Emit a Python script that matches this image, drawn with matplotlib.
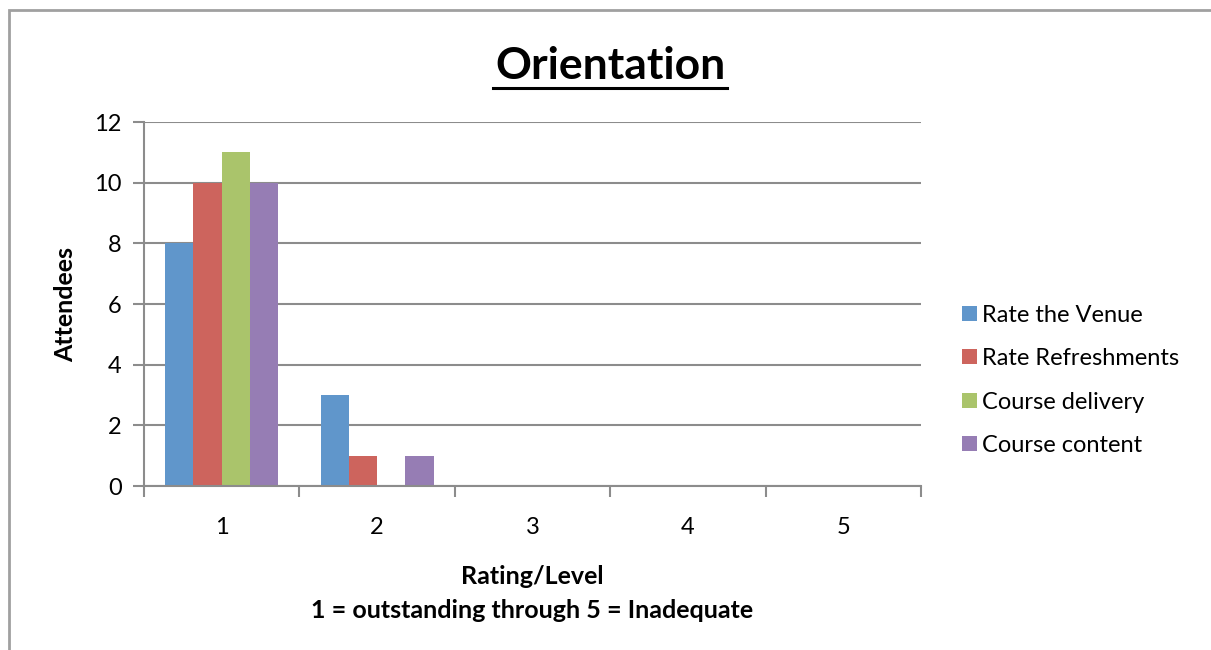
import matplotlib.pyplot as plt
from matplotlib.patches import Rectangle
from matplotlib.lines import Line2D
import numpy as np

plt.rcParams['font.family'] = ['Lato', 'DejaVu Sans']

ratings = ['1', '2', '3', '4', '5']
venue = [8, 3, 0, 0, 0]
refreshments = [10, 1, 0, 0, 0]
delivery = [11, 0, 0, 0, 0]
content = [10, 1, 0, 0, 0]
series_names = ['Rate the Venue', 'Rate Refreshments', 'Course delivery', 'Course content']
colors = ['#6096cb', '#cd645d', '#aac46b', '#967db4']

fig = plt.figure(figsize=(12.11, 6.5), dpi=100)
ax = fig.add_axes([0.1189, 0.2523, 0.6416, 0.56])

x = np.arange(len(ratings))
w = 0.182
for i, (vals, c) in enumerate(zip([venue, refreshments, delivery, content], colors)):
    ax.bar(x + (i - 1.5) * w, vals, w, color=c, label=series_names[i], zorder=3)

ax.set_xlim(-0.5, 4.5)
ax.set_ylim(0, 12)
ax.set_yticks(range(0, 13, 2))
ax.set_xticks(x)
ax.set_xticklabels(ratings, fontsize=17)
ax.set_xticks(np.arange(-0.5, 5, 1), minor=True)
ax.tick_params(axis='x', which='major', length=0, pad=22)
ax.tick_params(axis='x', which='minor', length=8, width=1.5, color='#8c8c8c', direction='out')
ax.tick_params(axis='y', length=8, width=1.5, color='#8c8c8c', labelsize=17, pad=8)
ax.grid(axis='y', color='#8c8c8c', linewidth=1.5, zorder=0)
for s in ['top', 'right']:
    ax.spines[s].set_visible(False)
for s in ['left', 'bottom']:
    ax.spines[s].set_color('#8c8c8c')
    ax.spines[s].set_linewidth(1.5)
    ax.spines[s].set_zorder(4)

ax.set_ylabel('Attendees', fontsize=18, fontweight='bold', labelpad=12)
ax.set_xlabel('Rating/Level\n1 = outstanding through 5 = Inadequate',
              fontsize=18, fontweight='bold', labelpad=20, linespacing=1.55)

leg = ax.legend(loc='center left', bbox_to_anchor=(1.026, 0.29), frameon=False,
                fontsize=17, handlelength=0.6, handleheight=0.6, handletextpad=0.25,
                labelspacing=0.95)

fig.text(0.504, 0.899, 'Orientation', ha='center', va='center', fontsize=32, fontweight='bold')
fig.add_artist(Line2D([493 / 1211, 727 / 1211], [1 - 88 / 650, 1 - 88 / 650],
                      color='black', linewidth=2.2))

# outer chart frame
fig.add_artist(Rectangle((9 / 1211, -0.05), 1.2, 0.05 + (650 - 10) / 650, fill=False,
                         edgecolor='#a0a0a0', linewidth=2))

fig.savefig('out.png', dpi=100)
